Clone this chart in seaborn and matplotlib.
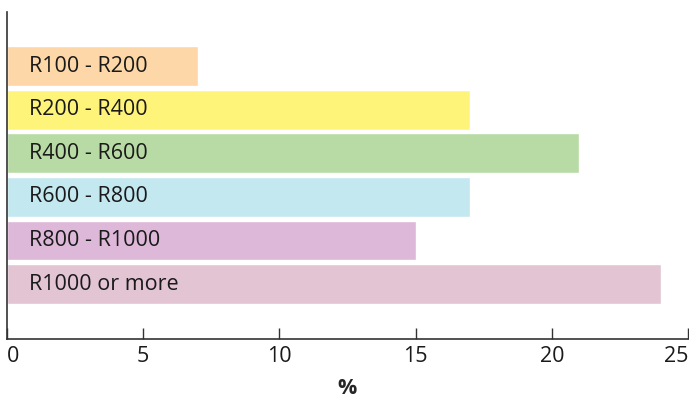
import matplotlib
matplotlib.use("Agg")
import matplotlib.pyplot as plt
import seaborn as sns
import pandas as pd

# Data
categories = ["R100 - R200", "R200 - R400", "R400 - R600",
              "R600 - R800", "R800 - R1000", "R1000 or more"]
percent = [7, 17, 21, 17, 15, 24]
colours = ["#FDD7A7", "#FFF47A", "#B8DAA5", "#C4E8F0", "#DDB8D8", "#E2C4D3"]
x_ticks = [0, 5, 10, 15, 20, 25]

df = pd.DataFrame({"Category": categories, "Percent": percent})

sns.set_style("white")
plt.rcParams["font.family"] = ["Open Sans", "DejaVu Sans"]

fig = plt.figure(figsize=(6.89, 3.98), dpi=100)
ax = fig.add_axes([7 / 689, 1 - 339 / 398, 681 / 689, 327 / 398])

sns.barplot(data=df, x="Percent", y="Category", hue="Category",
            palette=colours, saturation=1, orient="h", width=0.91,
            legend=False, ax=ax)

# category labels sit inside the bars
for i, cat in enumerate(categories):
    ax.text(0.82, i, cat, va="center", ha="left", fontsize=15.5, color="#1a1a1a")

ax.set_xlim(0, 25)
ax.set_ylim(6.26, -1.24)
ax.set_xticks(x_ticks)
ax.set_yticks([])
ax.set_ylabel("")
ax.set_xlabel("%", fontweight="bold", fontsize=15.5, labelpad=8)
ax.tick_params(axis="x", direction="in", length=8, width=1, colors="#333333",
               labelsize=15.5, labelcolor="#1a1a1a", pad=5, bottom=True)
labels = ax.get_xticklabels()
labels[0].set_ha("left")
labels[-1].set_ha("right")
sns.despine(ax=ax)
for s in ["left", "bottom"]:
    ax.spines[s].set_color("#333333")
    ax.spines[s].set_linewidth(1.2)

fig.savefig("out.png", dpi=100)
